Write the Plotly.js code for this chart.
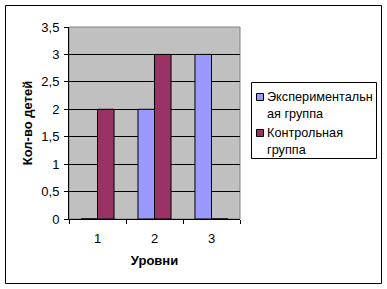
<!DOCTYPE html>
<html>
<head>
<meta charset="utf-8">
<script src="https://cdn.plot.ly/plotly-3.0.1.min.js"></script>
<style>html,body{margin:0;padding:0;background:#fff;}#chart{width:387px;height:289px;}</style>
</head>
<body>
<div id="chart"></div>
<script>
const categories = ['1', '2', '3'];
const seriesNames = ['Экспериментальн<br>ая группа', 'Контрольная<br>группа'];
const seriesColors = ['#9999FF', '#993366'];
const experimental = [0, 2, 3];
const control = [2, 3, 0];
const yTicks = [0, 0.5, 1, 1.5, 2, 2.5, 3, 3.5];

const L = 69, R = 147, T = 27, B = 70, W = 387, H = 289;
const pw = W - L - R, ph = H - T - B;
const px = v => (v - L) / pw;
const py = v => (H - B - v) / ph;

const traces = [experimental, control].map((vals, i) => ({
  type: 'bar', x: categories, y: vals, name: seriesNames[i],
  marker: {color: seriesColors[i], line: {color: '#000', width: 1}}
}));

// legend drawn as shapes + text annotations (Excel-style compact legend)
const legendShapes = [
  {type: 'rect', xref: 'paper', yref: 'paper', x0: px(251.5), x1: px(376.5), y0: py(158.5), y1: py(82.5),
   line: {color: '#000', width: 1}, fillcolor: '#fff'}
];
const legendAnn = [];
const itemCenters = [105, 141];
const squareTops = [93, 129];
seriesNames.forEach((nm, i) => {
  legendShapes.push({type: 'rect', xref: 'paper', yref: 'paper',
    x0: px(256.5), x1: px(263.5), y0: py(squareTops[i] + 7.5), y1: py(squareTops[i] + 0.5),
    line: {color: '#000', width: 1}, fillcolor: seriesColors[i]});
  legendAnn.push({xref: 'paper', yref: 'paper', x: px(265), y: py(itemCenters[i]),
    xanchor: 'left', yanchor: 'middle', align: 'left', showarrow: false, text: nm,
    font: {size: 12.7}});
});

const layout = {
  width: W, height: H,
  margin: {l: L, r: R, t: T, b: B, pad: 0},
  separators: ', ',
  paper_bgcolor: '#fff',
  plot_bgcolor: '#C0C0C0',
  font: {family: 'Liberation Sans, Arial, sans-serif', size: 13, color: '#000'},
  barmode: 'group',
  bargap: 0.42,
  bargroupgap: 0,
  showlegend: false,
  xaxis: {
    type: 'category', showline: true, linecolor: '#000', linewidth: 1,
    ticks: 'outside', tickson: 'boundaries', ticklen: 4, tickcolor: '#000',
    ticklabelstandoff: 7,
    showgrid: false, automargin: false,
    title: {text: '<b>Уровни</b>', font: {size: 13}, standoff: 11}
  },
  yaxis: {
    range: [0, 3.5], tickvals: yTicks, showline: true, linecolor: '#000', linewidth: 1,
    ticks: 'outside', ticklen: 4, tickcolor: '#000', ticklabelstandoff: 2,
    showgrid: true, gridcolor: '#000', gridwidth: 1, zeroline: false, automargin: false,
    title: {text: '<b>Кол-во детей</b>', font: {size: 13}, standoff: 5}
  },
  shapes: [
    {type: 'rect', xref: 'paper', yref: 'paper', x0: 0, x1: 1, y0: 0, y1: 1,
     line: {color: '#808080', width: 1}, layer: 'below'},
    {type: 'rect', xref: 'paper', yref: 'paper', x0: px(5.5), x1: px(381.5), y0: py(283.5), y1: py(5.5),
     line: {color: '#000', width: 1}}
  ].concat(legendShapes),
  annotations: legendAnn
};

Plotly.newPlot('chart', traces, layout, {staticPlot: true, displayModeBar: false});
</script>
</body>
</html>
